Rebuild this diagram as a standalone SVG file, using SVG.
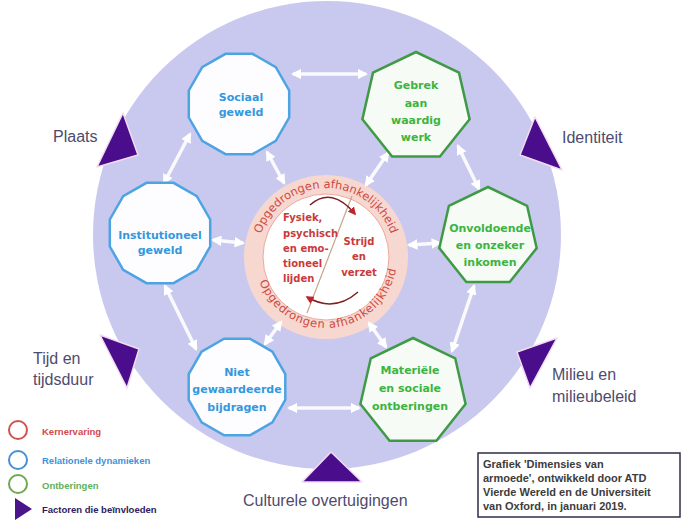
<svg xmlns="http://www.w3.org/2000/svg" width="689" height="523" viewBox="0 0 689 523">
<style>
.blue{fill:#fdfdff;stroke:#4ea3e2;stroke-width:2.5}
.green{fill:#f6fcf5;stroke:#3f9a45;stroke-width:2.5}
.bt{font-family:"DejaVu Sans",sans-serif;font-weight:bold;font-size:11px;fill:#3398de;text-anchor:middle}
.gt{font-family:"DejaVu Sans",sans-serif;font-weight:bold;font-size:11px;fill:#3cb441;text-anchor:middle}
.ct{font-family:"DejaVu Sans",sans-serif;font-weight:bold;font-size:10px;fill:#c93a3a}
.arc{font-family:"DejaVu Sans",sans-serif;font-size:11.5px;fill:#cf4a40}
.fac{font-family:"Liberation Sans",Arial,sans-serif;font-size:16px;fill:#4e4b6e}
.tri{fill:#4a0e8c;stroke:#f2dcef;stroke-width:1.5;stroke-linejoin:round}
.conn{stroke:#ffffff;stroke-opacity:0.9;stroke-width:3.5;fill:none;marker-start:url(#ah);marker-end:url(#ah)}
.leg{font-family:"Liberation Sans",Arial,sans-serif;font-weight:bold;font-size:9.5px}
.cap{font-family:"Liberation Sans",Arial,sans-serif;font-weight:bold;font-size:11px;fill:#3c3c3c}
</style>
<defs>
<marker id="ah" viewBox="0 0 10 10" refX="8" refY="5" markerWidth="3" markerHeight="3" orient="auto-start-reverse" markerUnits="strokeWidth">
<path d="M0,0 L10,5 L0,10 z" fill="#ffffff"/>
</marker>
<marker id="rh" viewBox="0 0 10 10" refX="8" refY="5" markerWidth="8" markerHeight="8" orient="auto" markerUnits="userSpaceOnUse">
<path d="M0,0 L10,5 L0,10 z" fill="#c0242a"/>
</marker>
<path id="topArc" d="M 257,257 A 69,69 0 0 1 395,257"/>
<path id="botArc" d="M 255,257 A 71,71 0 0 0 397,257"/>
</defs>
<rect width="689" height="523" fill="#ffffff"/>
<circle cx="327" cy="235" r="234" fill="#c9c9ef"/>

<g id="factors">
<polygon class="tri" points="123,113 138,155 97,167"/>
<text class="fac" x="53" y="142">Plaats</text>
<polygon class="tri" points="100,335 139,349 127,388"/>
<text class="fac" x="33" y="364">Tijd en</text>
<text class="fac" x="33" y="385">tijdsduur</text>
<polygon class="tri" points="535,117 562,170 520,155"/>
<text class="fac" x="562" y="143">Identiteit</text>
<polygon class="tri" points="557,338 517,352 530,388"/>
<text class="fac" x="552" y="380">Milieu en</text>
<text class="fac" x="552" y="402">milieubeleid</text>
<polygon class="tri" points="331,452 302,482 362,482"/>
<text class="fac" x="243" y="506">Culturele overtuigingen</text>
</g>

<g id="core">
<circle cx="326" cy="257" r="82" fill="#f7d8d0"/>
<circle cx="326" cy="257" r="63" fill="#ffffff" stroke="#eba89e" stroke-width="1"/>
<text class="arc"><textPath href="#topArc" startOffset="50%" text-anchor="middle">Opgedrongen afhankelijkheid</textPath></text>
<text class="arc" letter-spacing="0.6"><textPath href="#botArc" startOffset="53%" text-anchor="middle">Opgedrongen afhankelijkheid</textPath></text>
<line x1="352" y1="196" x2="307" y2="313" stroke="#c9a48c" stroke-width="1.2"/>
<path d="M 310,205 Q 332,186 355,214" fill="none" stroke="#7e1f22" stroke-width="1.5" marker-end="url(#rh)"/>
<path d="M 358,292 Q 334,313 307,297" fill="none" stroke="#7e1f22" stroke-width="1.5" marker-end="url(#rh)"/>
<text class="ct" x="283" y="221">Fysiek,</text>
<text class="ct" x="283" y="237">psychisch</text>
<text class="ct" x="283" y="252">en emo-</text>
<text class="ct" x="283" y="267">tioneel</text>
<text class="ct" x="283" y="282">lijden</text>
<text class="ct" x="359" y="245" text-anchor="middle">Strijd</text>
<text class="ct" x="359" y="260" text-anchor="middle">en</text>
<text class="ct" x="359" y="276" text-anchor="middle">verzet</text>
</g>

<g id="connectors">
<line class="conn" x1="293" y1="74" x2="366" y2="74"/>
<line class="conn" x1="190" y1="134" x2="164" y2="183"/>
<line class="conn" x1="165" y1="286" x2="196" y2="349"/>
<line class="conn" x1="289" y1="408" x2="359" y2="408"/>
<line class="conn" x1="452" y1="351" x2="474" y2="286"/>
<line class="conn" x1="458" y1="146" x2="479" y2="189"/>
<line class="conn" x1="284" y1="183" x2="267" y2="152"/>
<line class="conn" x1="366" y1="185" x2="388" y2="153"/>
<line class="conn" x1="243" y1="243" x2="213" y2="240"/>
<line class="conn" x1="409" y1="245" x2="440" y2="243"/>
<line class="conn" x1="281" y1="322" x2="265" y2="344"/>
<line class="conn" x1="369" y1="323" x2="386" y2="347"/>
</g>

<g id="sociaal">
<polygon class="blue" points="289.2,117.5 275.8,140.8 252.5,154.2 225.5,154.2 202.2,140.8 188.8,117.5 188.8,90.5 202.2,67.2 225.5,53.8 252.5,53.8 275.8,67.2 289.2,90.5"/>
<text class="bt" x="241" y="101">Sociaal</text>
<text class="bt" x="241" y="116">geweld</text>
</g>
<g id="institutioneel">
<polygon class="blue" points="210.2,246.5 196.8,269.8 173.5,283.2 146.5,283.2 123.2,269.8 109.8,246.5 109.8,219.5 123.2,196.2 146.5,182.8 173.5,182.8 196.8,196.2 210.2,219.5"/>
<text class="bt" x="160" y="239">Institutioneel</text>
<text class="bt" x="160" y="254">geweld</text>
</g>
<g id="niet">
<polygon class="blue" points="285.3,399.9 272.4,422.4 249.9,435.3 224.1,435.3 201.6,422.4 188.7,399.9 188.7,374.1 201.6,351.6 224.1,338.7 249.9,338.7 272.4,351.6 285.3,374.1"/>
<text class="bt" x="237" y="376">Niet</text>
<text class="bt" x="237" y="393">gewaardeerde</text>
<text class="bt" x="237" y="411">bijdragen</text>
</g>
<g id="gebrek">
<polygon class="green" points="416,52 459,72.7 469.6,119.2 439.9,156.6 392.1,156.6 362.4,119.2 373,72.7"/>
<text class="gt" x="416" y="89">Gebrek</text>
<text class="gt" x="416" y="107">aan</text>
<text class="gt" x="416" y="124">waardig</text>
<text class="gt" x="416" y="141">werk</text>
</g>
<g id="onvoldoende">
<polygon class="green" points="488,187 527.1,205.8 536.7,248.1 509.7,282.1 466.3,282.1 439.3,248.1 448.9,205.8"/>
<text class="gt" x="490" y="232">Onvoldoende</text>
<text class="gt" x="490" y="249">en onzeker</text>
<text class="gt" x="490" y="266">inkomen</text>
</g>
<g id="materiele">
<polygon class="green" points="413,338 455.2,358.3 465.6,404 436.4,440.7 389.6,440.7 360.4,404 370.8,358.3"/>
<text class="gt" x="410" y="374">Materiële</text>
<text class="gt" x="410" y="392">en sociale</text>
<text class="gt" x="410" y="410">ontberingen</text>
</g>

<g id="legend">
<circle cx="18" cy="430" r="9" fill="none" stroke="#d0534e" stroke-width="2"/>
<text class="leg" x="42" y="435" fill="#d24a4a">Kernervaring</text>
<circle cx="18" cy="460" r="9" fill="none" stroke="#4a8fd6" stroke-width="2"/>
<text class="leg" x="42" y="464" fill="#3d93db">Relationele dynamieken</text>
<circle cx="18" cy="484" r="9" fill="none" stroke="#6fa851" stroke-width="2"/>
<text class="leg" x="42" y="489" fill="#5fb05a">Ontberingen</text>
<polygon points="15,498 15,520 32,509" fill="#4a148a"/>
<text class="leg" x="42" y="513" fill="#2e1a5c">Factoren die beïnvloeden</text>
</g>

<g id="caption">
<rect x="478" y="453" width="202" height="64" fill="#ffffff" stroke="#2e2e48" stroke-width="1.5"/>
<text class="cap" x="483" y="468">Grafiek 'Dimensies van</text>
<text class="cap" x="483" y="482">armoede', ontwikkeld door ATD</text>
<text class="cap" x="483" y="496">Vierde Wereld en de Universiteit</text>
<text class="cap" x="483" y="510">van Oxford, in januari 2019.</text>
</g>
</svg>
